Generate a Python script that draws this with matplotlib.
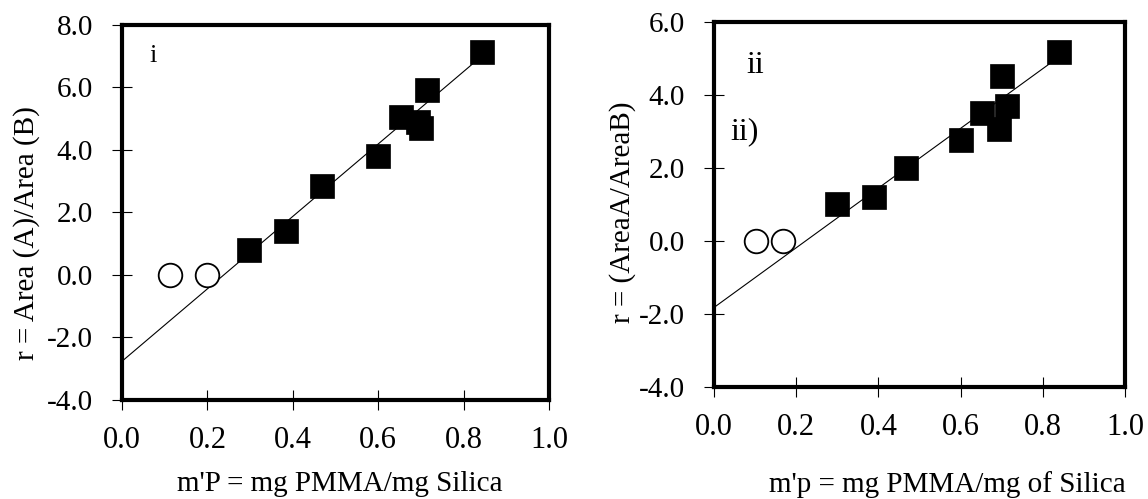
import matplotlib
matplotlib.use("Agg")
from matplotlib import pyplot as plt
from matplotlib.ticker import FormatStrFormatter, MultipleLocator

plt.rcParams['font.family'] = ['Liberation Serif', 'DejaVu Serif']
plt.rcParams['axes.unicode_minus'] = False

# panel i
x_sq_1 = [0.298, 0.384, 0.468, 0.599, 0.653, 0.693, 0.700, 0.714, 0.842]
y_sq_1 = [0.80, 1.40, 2.85, 3.81, 5.04, 4.90, 4.70, 5.93, 7.12]
x_open_1 = [0.112, 0.199]
y_open_1 = [0.0, 0.0]
fit_x_1 = [0.0, 0.842]
fit_y_1 = [-2.76, 7.00]

# panel ii
x_sq_2 = [0.298, 0.388, 0.467, 0.600, 0.651, 0.693, 0.700, 0.713, 0.840]
y_sq_2 = [1.01, 1.21, 2.01, 2.77, 3.50, 3.07, 4.53, 3.71, 5.18]
x_open_2 = [0.102, 0.167]
y_open_2 = [0.0, 0.0]
fit_x_2 = [0.0, 0.840]
fit_y_2 = [-1.82, 5.05]

FS = 21


def panel(ax, xs, ys, xo, yo, fx, fy, ylim, xlabel, ylabel):
    ax.plot(fx, fy, color='black', lw=0.8, zorder=2)
    ax.plot(xs, ys, 's', color='black', ms=17, mew=0.5, zorder=3)
    ax.plot(xo, yo, 'o', mfc='white', mec='black', ms=17, mew=1.3, zorder=3)
    ax.set_xlim(0, 1.0)
    ax.set_ylim(*ylim)
    ax.xaxis.set_major_locator(MultipleLocator(0.2))
    ax.yaxis.set_major_locator(MultipleLocator(2.0))
    ax.xaxis.set_major_formatter(FormatStrFormatter('%.1f'))
    ax.yaxis.set_major_formatter(FormatStrFormatter('%.1f'))
    for s in ax.spines.values():
        s.set_linewidth(3)
    ax.tick_params(axis='x', direction='inout', length=14, width=0.8,
                   pad=12, labelsize=22)
    ax.tick_params(axis='y', direction='inout', length=14, width=0.8,
                   pad=14, labelsize=FS)
    ax.set_xlabel(xlabel, fontsize=FS)
    ax.set_ylabel(ylabel, fontsize=FS)


fig = plt.figure(figsize=(11.48, 4.99), dpi=100)
ax1 = fig.add_axes([0.1063, 0.1984, 0.3720, 0.7515])
ax2 = fig.add_axes([0.6220, 0.2244, 0.3580, 0.7315])

panel(ax1, x_sq_1, y_sq_1, x_open_1, y_open_1, fit_x_1, fit_y_1, (-4, 8),
      "m'P = mg PMMA/mg Silica", "r = Area (A)/Area (B)")
panel(ax2, x_sq_2, y_sq_2, x_open_2, y_open_2, fit_x_2, fit_y_2, (-4, 6),
      "m'p = mg PMMA/mg of Silica", "r = (AreaA/AreaB)")

ax1.xaxis.set_label_coords(0.51, -0.189)
ax1.yaxis.set_label_coords(-0.192, 0.445)
ax2.xaxis.set_label_coords(0.567, -0.230)
ax2.yaxis.set_label_coords(-0.19, 0.48)

ax1.text(0.073, 7.0, "i", fontsize=19, ha='center', va='center')
ax2.text(0.10, 4.8, "ii", fontsize=23, ha='center', va='center')
ax2.text(0.075, 3.0, "ii)", fontsize=23, ha='center', va='center')

fig.savefig("out.png", dpi=100)
